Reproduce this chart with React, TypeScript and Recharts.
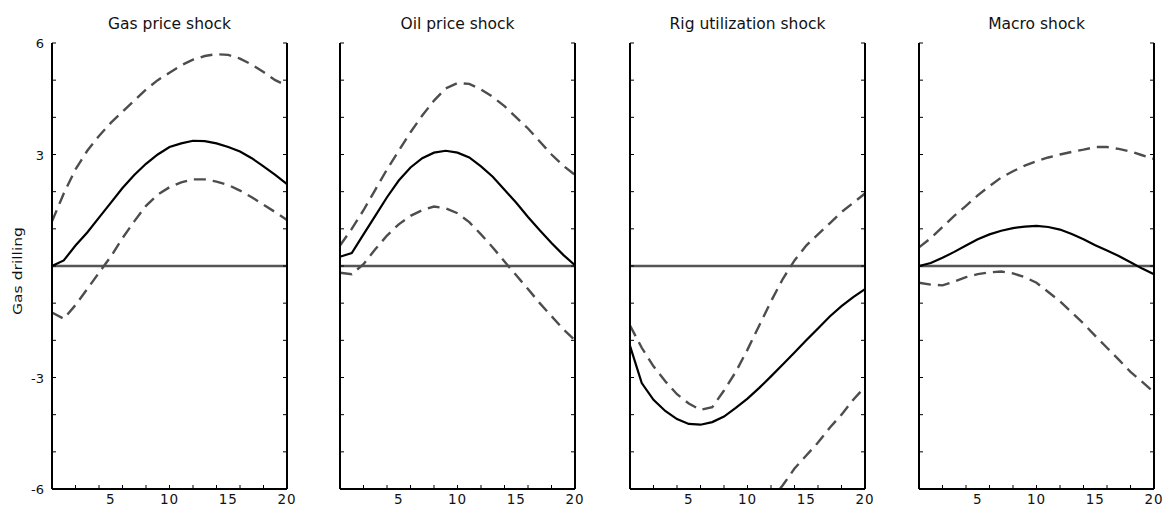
import React from "react";
import { LineChart, Line, XAxis, YAxis, ReferenceLine } from "recharts";

const steps = [0, 1, 2, 3, 4, 5, 6, 7, 8, 9, 10, 11, 12, 13, 14, 15, 16, 17, 18, 19, 20];

const titles = ["Gas price shock", "Oil price shock", "Rig utilization shock", "Macro shock"];

// Gas price shock
const gasMid = [0, 0.15, 0.55, 0.9, 1.3, 1.7, 2.1, 2.45, 2.75, 3.0, 3.2, 3.3, 3.37, 3.36, 3.3, 3.2, 3.08, 2.9, 2.68, 2.45, 2.2];
const gasHi = [1.2, 1.95, 2.6, 3.1, 3.5, 3.85, 4.15, 4.45, 4.75, 5.0, 5.2, 5.4, 5.55, 5.65, 5.7, 5.68, 5.58, 5.42, 5.22, 5.0, 4.85];
const gasLo = [-1.25, -1.42, -1.05, -0.62, -0.18, 0.25, 0.75, 1.2, 1.62, 1.92, 2.12, 2.25, 2.33, 2.33, 2.27, 2.18, 2.03, 1.85, 1.65, 1.45, 1.24];

// Oil price shock
const oilMid = [0.25, 0.35, 0.85, 1.35, 1.85, 2.3, 2.65, 2.9, 3.05, 3.1, 3.05, 2.92, 2.68, 2.4, 2.05, 1.7, 1.32, 0.96, 0.62, 0.3, 0.02];
const oilHi = [0.55, 1.0, 1.5, 2.05, 2.6, 3.1, 3.6, 4.05, 4.45, 4.78, 4.92, 4.9, 4.75, 4.55, 4.3, 4.0, 3.7, 3.35, 3.0, 2.7, 2.45];
const oilLo = [-0.18, -0.22, 0.05, 0.45, 0.82, 1.12, 1.35, 1.5, 1.6, 1.55, 1.42, 1.18, 0.85, 0.5, 0.12, -0.25, -0.62, -1.0, -1.35, -1.7, -2.0];

// Rig utilization shock
const rigMid = [-2.15, -3.15, -3.6, -3.9, -4.12, -4.25, -4.27, -4.2, -4.05, -3.82, -3.57, -3.28, -2.97, -2.65, -2.33, -2.0, -1.68, -1.36, -1.08, -0.84, -0.62];
const rigHi = [-1.6, -2.2, -2.7, -3.1, -3.45, -3.7, -3.87, -3.8, -3.35, -2.85, -2.25, -1.6, -0.95, -0.35, 0.15, 0.55, 0.85, 1.15, 1.45, 1.7, 1.95];
const rigLo = [-6.6, -7.4, -7.9, -8.3, -8.6, -8.8, -8.8, -8.6, -8.2, -7.7, -7.2, -6.75, -6.3, -5.9, -5.45, -5.1, -4.75, -4.35, -4.0, -3.6, -3.25];

// Macro shock
const macMid = [0, 0.08, 0.22, 0.38, 0.55, 0.72, 0.85, 0.95, 1.02, 1.06, 1.08, 1.05, 0.98, 0.86, 0.72, 0.56, 0.42, 0.27, 0.1, -0.07, -0.22];
const macHi = [0.5, 0.75, 1.05, 1.35, 1.62, 1.9, 2.15, 2.38, 2.55, 2.7, 2.82, 2.92, 3.0, 3.07, 3.13, 3.2, 3.2, 3.15, 3.08, 2.98, 2.88];
const macLo = [-0.45, -0.5, -0.52, -0.42, -0.3, -0.22, -0.17, -0.15, -0.2, -0.3, -0.45, -0.7, -0.95, -1.25, -1.55, -1.88, -2.2, -2.52, -2.85, -3.12, -3.4];

const xTicks = [0, 2, 4, 5, 6, 8, 10, 12, 14, 15, 16, 18, 20];
const yTicks = [-6, -5, -4, -3, -2, -1, 0, 1, 2, 3, 4, 5, 6];
const yLabels = [6, 3, -3, -6];

const FONT = "DejaVu Sans, sans-serif";
const plotLefts = [52, 340, 630, 919];
const PLOT_W = 235;
const PLOT_TOP = 43;
const PLOT_BOTTOM = 489;

const panels = [
  { mid: gasMid, hi: gasHi, lo: gasLo },
  { mid: oilMid, hi: oilHi, lo: oilLo },
  { mid: rigMid, hi: rigHi, lo: rigLo },
  { mid: macMid, hi: macHi, lo: macLo },
];

const BottomTick = (props: any) => {
  const { x, y, payload } = props;
  const v = payload.value;
  return (
    <g>
      {v % 2 === 0 && <line x1={x} x2={x} y1={y} y2={y - 4} stroke="#000" strokeWidth={1} />}
      {v % 5 === 0 && v > 0 && (
        <text x={x} y={y + 15} textAnchor="middle" fontSize={13.5} fontFamily={FONT} fill="#111" letterSpacing={1}>
          {v}
        </text>
      )}
    </g>
  );
};

const TopTick = (props: any) => {
  const { x, y, payload } = props;
  if (payload.value % 2 !== 0) return <g />;
  return <line x1={x} x2={x} y1={y} y2={y + 4} stroke="#000" strokeWidth={1} />;
};

const makeLeftTick = (showLabels: boolean) => (props: any) => {
  const { x, y, payload } = props;
  const v = payload.value;
  return (
    <g>
      <line x1={x} x2={x + 4} y1={y} y2={y} stroke="#000" strokeWidth={1} />
      {showLabels && yLabels.includes(v) && (
        <text x={x - 8} y={y + 5} textAnchor="end" fontSize={13} fontFamily={FONT} fill="#111">
          {v}
        </text>
      )}
    </g>
  );
};

const RightTick = (props: any) => {
  const { x, y } = props;
  return <line x1={x} x2={x - 4} y1={y} y2={y} stroke="#000" strokeWidth={1} />;
};

function Panel({ index }: { index: number }) {
  const p = panels[index];
  const data = steps.map((t, i) => ({ t, mid: p.mid[i], hi: p.hi[i], lo: p.lo[i] }));
  const left = plotLefts[index] - 40;
  return (
    <div style={{ position: "absolute", left, top: 0 }}>
      <LineChart
        width={40 + PLOT_W + 10}
        height={507}
        data={data}
        margin={{ top: PLOT_TOP, right: 0, bottom: 0, left: 0 }}
      >
        <XAxis
          dataKey="t"
          type="number"
          domain={[0, 20]}
          ticks={xTicks}
          interval={0}
          tickSize={0}
          tickMargin={0}
          height={507 - PLOT_BOTTOM}
          axisLine={{ stroke: "#000", strokeWidth: 2 }}
          tick={<BottomTick />}
        />
        <XAxis
          xAxisId="top"
          orientation="top"
          dataKey="t"
          type="number"
          domain={[0, 20]}
          ticks={xTicks}
          interval={0}
          tickSize={0}
          tickMargin={0}
          height={0}
          axisLine={{ stroke: "#000", strokeWidth: 2 }}
          tick={<TopTick />}
        />
        <YAxis
          type="number"
          domain={[-6, 6]}
          allowDataOverflow
          ticks={yTicks}
          interval={0}
          tickSize={0}
          tickMargin={0}
          width={40}
          axisLine={{ stroke: "#000", strokeWidth: 2 }}
          tick={makeLeftTick(index === 0)}
        />
        <YAxis
          yAxisId="right"
          orientation="right"
          type="number"
          domain={[-6, 6]}
          allowDataOverflow
          ticks={yTicks}
          interval={0}
          tickSize={0}
          tickMargin={0}
          width={10}
          axisLine={{ stroke: "#000", strokeWidth: 2 }}
          tick={<RightTick />}
        />
        <ReferenceLine y={0} stroke="#555" strokeWidth={2.5} />
        <Line type="linear" dataKey="hi" stroke="#4d4d4d" strokeWidth={2.4} strokeDasharray="12 7" dot={false} isAnimationActive={false} />
        <Line type="linear" dataKey="lo" stroke="#4d4d4d" strokeWidth={2.4} strokeDasharray="12 7" dot={false} isAnimationActive={false} />
        <Line type="linear" dataKey="mid" stroke="#000" strokeWidth={2.2} dot={false} isAnimationActive={false} />
      </LineChart>
    </div>
  );
}

export default function App() {
  return (
    <div style={{ position: "absolute", left: 0, top: 0, width: 1163, height: 507, background: "#fff" }}>
      {titles.map((title, i) => (
        <Panel key={title} index={i} />
      ))}
      <svg width={1163} height={507} style={{ position: "absolute", left: 0, top: 0, pointerEvents: "none" }}>
        {titles.map((title, i) => (
          <text
            key={title}
            x={plotLefts[i] + PLOT_W / 2}
            y={29}
            textAnchor="middle"
            fontSize={15.5}
            fontFamily={FONT}
            fill="#111"
          >
            {title}
          </text>
        ))}
        <text
          x={22}
          y={271}
          transform="rotate(-90 22 271)"
          textAnchor="middle"
          fontSize={13}
          fontFamily={FONT}
          fill="#111"
          textLength={88}
          lengthAdjust="spacingAndGlyphs"
        >
          Gas drilling
        </text>
      </svg>
    </div>
  );
}
